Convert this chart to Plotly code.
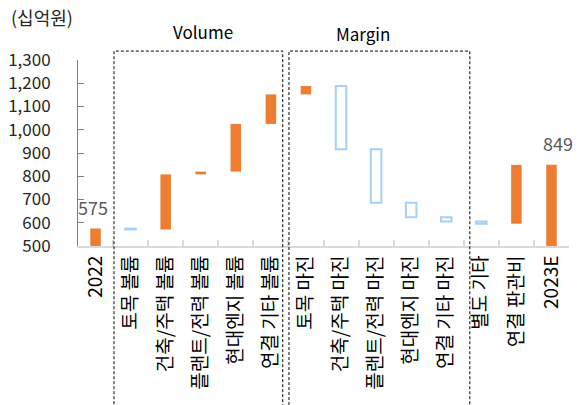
import plotly.graph_objects as go

categories = ["2022", "토목 볼륨", "건축/주택 볼륨", "플랜트/전력 볼륨", "현대엔지 볼륨", "연결 기타 볼륨",
              "토목 마진", "건축/주택 마진", "플랜트/전력 마진", "현대엔지 마진", "연결 기타 마진",
              "별도 기타", "연결 판관비", "2023E"]
starts = [0, 575, 571, 808, 820, 1025, 1152, 1188, 916, 686, 624, 605, 596, 0]
ends = [575, 571, 808, 820, 1025, 1152, 1188, 916, 686, 624, 605, 596, 849, 849]
total_labels = {0: "575", 13: "849"}

ORANGE = "#ED7D31"
BLUE = "#A5D1F6"
FONT = "Noto Sans CJK KR"

bases = [min(s, e) for s, e in zip(starts, ends)]
heights = [abs(e - s) for s, e in zip(starts, ends)]
up = [e >= s for s, e in zip(starts, ends)]

fig = go.Figure()
fig.add_trace(go.Bar(
    x=categories, y=heights, base=bases, width=0.3,
    marker=dict(color=[ORANGE if u else "white" for u in up],
                line=dict(color=[ORANGE if u else BLUE for u in up], width=[0 if u else 2 for u in up])),
    showlegend=False, hoverinfo="skip",
))

for i, t in total_labels.items():
    fig.add_annotation(x=i, y=ends[i], text=t, showarrow=False, yanchor="bottom", xanchor="center",
                       yshift=7, xshift=(-3 if i == 0 else 7),
                       font=dict(family=FONT, size=18, color="#595959"))

# group boxes
box = dict(type="rect", xref="paper", yref="paper", line=dict(color="black", width=1, dash="3px,2px"),
           fillcolor="rgba(0,0,0,0)", layer="above")
fig.add_shape(x0=0.0733, x1=0.417, y0=-0.9, y1=1.048, **box)
fig.add_shape(x0=0.4297, x1=0.798, y0=-0.9, y1=1.048, **box)

title_font = dict(family=FONT, size=17, color="black")
fig.add_annotation(xref="paper", yref="paper", x=0.255, y=1.152, xanchor="center", yanchor="middle",
                   text="Volume", showarrow=False, font=title_font)
fig.add_annotation(xref="paper", yref="paper", x=0.58, y=1.145, xanchor="center", yanchor="middle",
                   text="Margin", showarrow=False, font=title_font)
fig.add_annotation(xref="paper", yref="paper", x=-0.14, y=1.23, xanchor="left", yanchor="middle",
                   text="(십억원)", showarrow=False, font=dict(family=FONT, size=18, color="#262626"))

fig.update_layout(
    width=582, height=405,
    margin=dict(l=78, r=13, t=60, b=159, autoexpand=False),
    paper_bgcolor="white", plot_bgcolor="white",
    font=dict(family=FONT, color="#262626"),
    xaxis=dict(type="category", range=[-0.5, len(categories) - 0.5], tickangle=-90,
               tickson="boundaries", ticks="inside", ticklen=6,
               tickcolor="#D9D9D9", tickwidth=1.5, showline=True, linecolor="#D9D9D9", linewidth=2,
               showgrid=False, tickfont=dict(family=FONT, size=19, color="black")),
    yaxis=dict(range=[500, 1300], tickvals=list(range(500, 1301, 100)), tickformat=",d",
               ticks="inside", ticklen=6, tickcolor="#7F7F7F", showline=True, linecolor="#7F7F7F",
               linewidth=1, showgrid=False, zeroline=False,
               tickfont=dict(family=FONT, size=17, color="#262626"), ticklabelstandoff=23),
)

fig.write_html("out.html")
